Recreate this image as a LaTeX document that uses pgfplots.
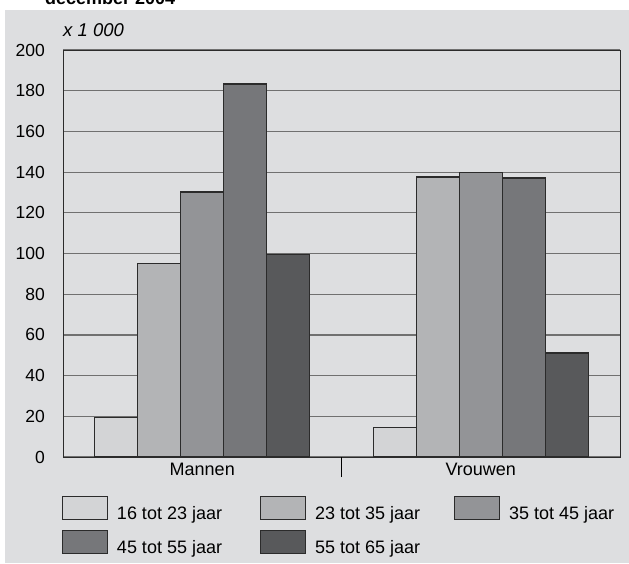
\documentclass[border=0pt]{standalone}
\usepackage{fontspec}
\setmainfont{Liberation Sans}
\usepackage{pgfplots}
\pgfplotsset{compat=1.18}
\definecolor{bg}{HTML}{DDDEE0}
\definecolor{ca}{HTML}{D3D4D6}
\definecolor{cb}{HTML}{B3B4B6}
\definecolor{cc}{HTML}{939497}
\definecolor{cd}{HTML}{76777A}
\definecolor{ce}{HTML}{58595B}
\definecolor{edge}{HTML}{2B2B2B}
\definecolor{gridc}{HTML}{707070}
\newcommand\lbox[1]{\draw[fill=#1,draw=edge,line width=1pt] (0pt,-5.5pt) rectangle (45pt,17.5pt);}
\begin{document}
\fontsize{17.5}{20}\selectfont
\begin{tikzpicture}
\path[use as bounding box] (0pt,0pt) rectangle (629pt,563pt);
\fill[bg] (5pt,0pt) rectangle (629pt,553pt);
\node[anchor=base west, font=\fontsize{18}{20}\selectfont\bfseries, inner sep=0pt] at (45pt,558pt) {december 2004};
\node[anchor=base west, font=\fontsize{18.5}{20}\selectfont\itshape, inner sep=0pt] at (63pt,526pt) {x 1 000};
\begin{axis}[
  at={(63pt,106pt)}, anchor=south west,
  scale only axis, width=557pt, height=407pt,
  ybar=0pt, bar width=43pt,
  xmin=-0.5, xmax=1.5, ymin=0, ymax=200,
  xtick={0,1}, xticklabels={Mannen,Vrouwen},
  xtick pos=left,
  major tick length=0pt,
  x tick label style={anchor=north, inner sep=0pt, yshift=-6pt, font=\fontsize{18}{20}\selectfont},
  extra x ticks={0.5}, extra x tick labels={},
  extra x tick style={major tick length=20pt, tick align=outside, tick style={draw=black, line width=1pt}},
  ytick={0,20,...,200},
  y tick label style={anchor=east, inner sep=0pt, xshift=-18pt},
  /pgf/number format/assume math mode=true,
  ymajorgrids, major grid style={draw=gridc, line width=1.2pt},
  axis line style={draw=edge, line width=1pt},
  legend columns=3,
  legend cell align=left,
  legend style={at={(-0.0018,-0.097)}, anchor=north west, draw=none, fill=none,
    inner sep=0pt, outer sep=0pt, row sep=7.5pt,
    font=\fontsize{18}{20}\selectfont,
    nodes={inner sep=0pt},
    /tikz/every odd column/.append style={column sep=9pt},
    /tikz/column 2/.style={column sep=38pt},
    /tikz/column 4/.style={column sep=34pt}},
]
\addplot[fill=ca, draw=edge, line width=1.1pt, legend image code/.code={\lbox{ca}}] coordinates {(0,19.4) (1,14.7)};
\addplot[fill=cb, draw=edge, line width=1.1pt, legend image code/.code={\lbox{cb}}] coordinates {(0,95.3) (1,137.6)};
\addplot[fill=cc, draw=edge, line width=1.1pt, legend image code/.code={\lbox{cc}}] coordinates {(0,130.2) (1,140.0)};
\addplot[fill=cd, draw=edge, line width=1.1pt, legend image code/.code={\lbox{cd}}] coordinates {(0,183.3) (1,137.1)};
\addplot[fill=ce, draw=edge, line width=1.1pt, legend image code/.code={\lbox{ce}}] coordinates {(0,99.3) (1,51.1)};
\legend{16 tot 23 jaar, 23 tot 35 jaar, 35 tot 45 jaar, 45 tot 55 jaar, 55 tot 65 jaar}
\end{axis}
\end{tikzpicture}
\end{document}
